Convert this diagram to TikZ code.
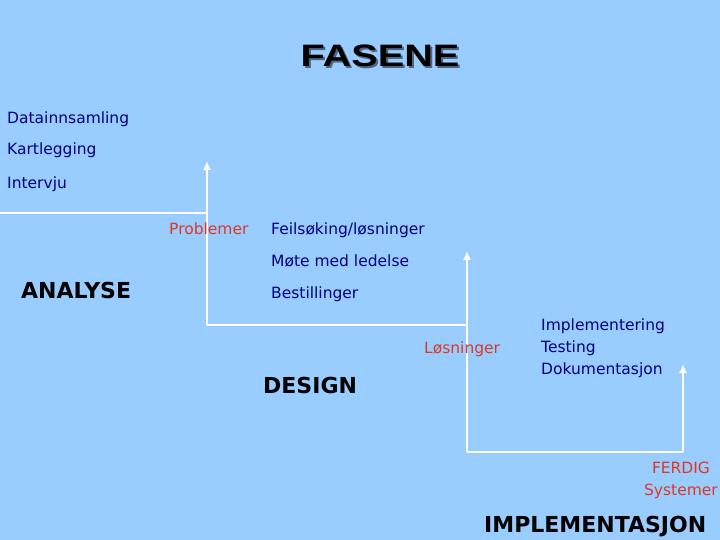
\documentclass[tikz,border=0pt]{standalone}
\usepackage{fontspec}
\setmainfont{DejaVu Sans}
\newfontfamily\titlefont{Liberation Sans}
\usetikzlibrary{arrows.meta}
\definecolor{bakgrunn}{RGB}{153,204,255}
\definecolor{marine}{RGB}{0,0,128}
\definecolor{rod}{RGB}{222,56,36}
\definecolor{skyggefarge}{RGB}{80,100,130}
\tikzset{
  punkt/.style={anchor=base west, inner sep=0pt, text=marine,
    font=\fontsize{15.5}{18}\selectfont},
  merke/.style={punkt, text=rod},
  fase/.style={anchor=base west, inner sep=0pt,
    font=\fontsize{22}{26}\selectfont\bfseries},
  trapp/.style={white, line width=1.5pt},
  pil/.style={trapp, -{Latex[length=9pt,width=8pt]}}
}

\begin{document}
\begin{tikzpicture}[x=1pt,y=-1pt]
    \fill[bakgrunn] (0,0) rectangle (720,540);
    \useasboundingbox (0,0) rectangle (720,540);

    % tittel
    \node[anchor=base, inner sep=0pt, text=skyggefarge] (skygge) at (382,69)
        {\titlefont\fontsize{31}{31}\selectfont\bfseries\scalebox{1.28}[1]{FASENE}};
    \node[anchor=base, inner sep=0pt] (tittel) at (380,67)
        {\titlefont\fontsize{31}{31}\selectfont\bfseries\scalebox{1.28}[1]{FASENE}};

    % trappen
    \coordinate (start) at (0,213);
    \coordinate (bunn1) at (207,325);
    \coordinate (topp1) at (207,161);
    \coordinate (bunn2) at (467,452);
    \coordinate (topp2) at (467,251);
    \coordinate (bunn3) at (683,452);
    \coordinate (topp3) at (683,364);
    \draw[trapp] (start) -- (start -| bunn1);
    \draw[trapp] (bunn1) -- (bunn1 -| bunn2);
    \draw[trapp] (bunn2) -- (bunn3);
    \foreach \i in {1,2,3}
        \draw[pil] (bunn\i) -- (topp\i);

    % analyse
    \foreach \t/\y [count=\n] in {Datainnsamling/124, Kartlegging/155, Intervju/189}
        \node[punkt] (analyse\n) at (7,\y) {\t};
    \node[merke] (problemer) at (169,234) {Problemer};
    \node[fase] (analyse) at (21,298) {ANALYSE};

    % design
    \foreach \t/\y [count=\n] in {{Feilsøking/løsninger}/234, Møte med ledelse/266, Bestillinger/298}
        \node[punkt] (design\n) at (271,\y) {\t};
    \node[merke] (losninger) at (424,353) {Løsninger};
    \node[fase] (design) at (263,393) {DESIGN};

    % implementasjon
    \foreach \t/\y [count=\n] in {Implementering/330, Testing/352, Dokumentasjon/374}
        \node[punkt] (impl\n) at (541,\y) {\t};
    \node[merke, anchor=base, align=center] (ferdig) at (681,495)
        {FERDIG\\[4pt]Systemer};
    \node[fase, text=black] (implementasjon) at (484,532) {IMPLEMENTASJON};
\end{tikzpicture}
\end{document}
